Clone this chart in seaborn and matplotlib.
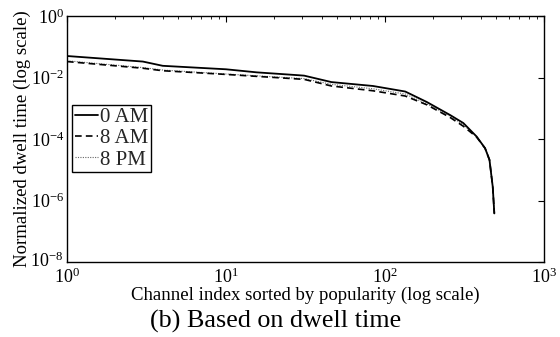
import numpy as np
import pandas as pd
import matplotlib
matplotlib.use("Agg")
import matplotlib.pyplot as plt
import matplotlib.transforms as mtransforms
import seaborn as sns
from matplotlib.ticker import LogLocator, NullLocator, FixedLocator

series_names = ["0 AM", "8 AM", "8 PM"]

x_0am = [1, 3, 4, 10, 15.6, 29, 31, 46, 84, 134, 183, 257, 311, 377, 426, 454, 476, 487]
y_0am = [0.05, 0.033, 0.024, 0.0185, 0.0147, 0.0118, 0.0115, 0.0071, 0.0053, 0.0035,
         0.0016, 6e-4, 3.3e-4, 1.2e-4, 5e-5, 2.1e-5, 2.8e-6, 3.8e-7]

x_8am = [1, 3, 4, 10, 31, 46, 84, 134, 183, 257, 311, 377, 426, 454, 476, 487]
y_8am = [0.033, 0.02, 0.0166, 0.0126, 0.0087, 0.0053, 0.0037, 0.0025, 0.0013,
         5e-4, 2.6e-4, 1.15e-4, 5e-5, 2.1e-5, 2.8e-6, 3.8e-7]

x_8pm = [1, 3, 4, 10, 31, 46, 84, 134, 183, 257, 311, 377, 426, 454, 476, 487]
y_8pm = [0.035, 0.021, 0.0175, 0.013, 0.0092, 0.006, 0.0043, 0.0029, 0.0014,
         5.5e-4, 2.9e-4, 1.2e-4, 5e-5, 2.1e-5, 2.8e-6, 3.8e-7]

x_ticks = [1, 10, 100, 1000]
y_ticks = [1e-8, 1e-6, 1e-4, 1e-2, 1e0]

sns.set_theme(style="white")
plt.rcParams['font.family'] = ['Liberation Serif', 'DejaVu Serif']
plt.rcParams['mathtext.fontset'] = 'stix'

fig = plt.figure(figsize=(5.6, 3.37), dpi=100)
ax = fig.add_axes([67/560, 1 - 262/337, (544-67)/560, (262-16)/337])

df = pd.concat([
    pd.DataFrame({"x": x_0am, "y": y_0am, "series": series_names[0]}),
    pd.DataFrame({"x": x_8am, "y": y_8am, "series": series_names[1]}),
    pd.DataFrame({"x": x_8pm, "y": y_8pm, "series": series_names[2]}),
])

styles = {
    "0 AM": dict(color="black", linestyle="-", linewidth=1.3),
    "8 AM": dict(color="black", linestyle=(0, (4, 2.5)), linewidth=1.2),
    "8 PM": dict(color="#666666", linestyle=(0, (1, 1.2)), linewidth=0.8),
}
for name in ["8 PM", "8 AM", "0 AM"]:
    sub = df[df["series"] == name]
    sns.lineplot(data=sub, x="x", y="y", ax=ax, label=name, sort=False,
                 estimator=None, **styles[name])

ax.set_xscale("log")
ax.set_yscale("log")
ax.set_xlim(1, 1000)
ax.set_ylim(1e-8, 1)
ax.yaxis.set_major_locator(FixedLocator(y_ticks))
ax.yaxis.set_minor_locator(NullLocator())
ax.xaxis.set_major_locator(FixedLocator(x_ticks))
ax.xaxis.set_minor_locator(LogLocator(base=10, subs=np.arange(2, 10), numticks=20))

for s in ax.spines.values():
    s.set_color("black")
    s.set_linewidth(1.0)

ax.tick_params(which="both", direction="in", top=True, right=True, colors="black",
               labelsize=13)
ax.tick_params(axis="x", pad=4)
ax.tick_params(axis="y", pad=2)
ax.tick_params(which="major", length=4, width=0.8)
ax.tick_params(which="minor", length=2.5, width=0.6)

ax.set_xlabel("Channel index sorted by popularity (log scale)", fontsize=13.5, color="black")
ax.set_ylabel("Normalized dwell time (log scale)", fontsize=13.5, color="black")
ax.xaxis.set_label_coords(0.5, -(295.5 - 262) / 246)
ax.yaxis.set_label_coords(-(67 - 22) / 477, 0.5)
ax.xaxis.label.set_va("center")
ax.yaxis.label.set_va("center")

# nudge the bottom y tick label up a little so it clears the first x tick label
fig.canvas.draw()
ylab0 = ax.yaxis.get_majorticklabels()[0]
ylab0.set_transform(ylab0.get_transform() +
                    mtransforms.ScaledTranslation(-1/100, 3/100, fig.dpi_scale_trans))

handles, labels = ax.get_legend_handles_labels()
order = [labels.index(n) for n in series_names]
leg = ax.legend([handles[i] for i in order], [labels[i] for i in order],
                loc="upper left", bbox_to_anchor=(5/477, 1 - 89/246), fontsize=15,
                frameon=True, fancybox=False, edgecolor="black", framealpha=1,
                handlelength=1.15, handletextpad=0.08, borderpad=0.12,
                labelspacing=0.08, borderaxespad=0)
leg.get_frame().set_linewidth(1.0)

fig.text(276/560, 1 - 321/337, "(b) Based on dwell time", ha="center", va="center",
         fontsize=18.8, color="black")

fig.savefig("out.png", dpi=100)
